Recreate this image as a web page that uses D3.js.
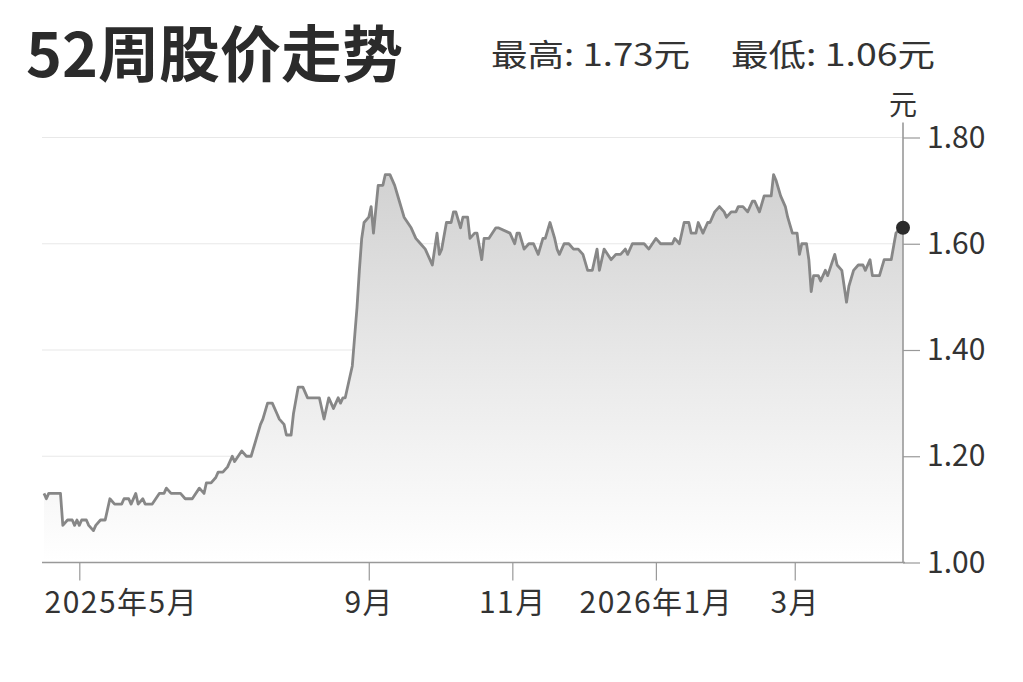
<!DOCTYPE html>
<html>
<head>
<meta charset="utf-8">
<script src="https://cdn.jsdelivr.net/npm/d3@7"></script>
<style>
body { margin: 0; background: #fff; }
svg { display: block; font-family: "Noto Sans CJK SC", "Noto Sans", sans-serif; }
</style>
</head>
<body>
<svg></svg>
<script>
let titleText = '52周股价走势'
let highText = '最高: 1.73元'
let lowText = '最低: 1.06元'
let unitText = '元'

// days counted from the first day of the 52-week window
let startDate = new Date(2025, 3, 16)
let dayOffsets = [
    0, 1, 2, 7, 8, 10, 12, 13, 14, 15, 16, 18, 19, 21, 22, 24, 26, 28, 30, 33,
    34, 36, 37, 39, 40, 42, 43, 46, 49, 51, 52, 54, 58, 60, 63, 66, 68, 69, 71, 73,
    74, 76, 78, 80, 81, 84, 86, 88, 90, 92, 93, 95, 97, 99, 100, 102, 103, 105, 106, 108,
    110, 112, 116, 117, 119, 121, 123, 125, 126, 127, 128, 130, 131, 133, 134, 135, 136, 138, 139, 140,
    142, 144, 145, 147, 149, 151, 153, 156, 158, 160, 162, 164, 165, 167, 168, 169, 171, 173, 174, 175,
    177, 178, 180, 181, 183, 184, 186, 187, 189, 192, 193, 198, 200, 201, 202, 204, 206, 208, 210, 212,
    213, 215, 217, 218, 219, 221, 223, 225, 227, 229, 231, 233, 235, 236, 238, 241, 243, 245, 247, 248,
    250, 255, 257, 260, 262, 267, 268, 270, 272, 274, 275, 277, 278, 280, 282, 283, 285, 287, 289, 290,
    292, 294, 295, 297, 299, 301, 302, 304, 306, 308, 309, 310, 311, 313, 315, 316, 318, 320, 321, 322,
    324, 325, 326, 327, 329, 330, 332, 333, 336, 337, 339, 341, 342, 344, 346, 348, 349, 351, 352, 355,
    357, 360, 362, 364, 365
]
let prices = [
    1.13, 1.12, 1.13, 1.13, 1.07, 1.08, 1.08, 1.07, 1.08, 1.07, 1.08, 1.08, 1.07, 1.06, 1.07, 1.08, 1.08, 1.12, 1.11, 1.11,
    1.12, 1.12, 1.11, 1.13, 1.11, 1.12, 1.11, 1.11, 1.13, 1.13, 1.14, 1.13, 1.13, 1.12, 1.12, 1.14, 1.13, 1.15, 1.15, 1.16,
    1.17, 1.17, 1.18, 1.20, 1.19, 1.21, 1.20, 1.20, 1.23, 1.26, 1.27, 1.30, 1.30, 1.28, 1.27, 1.26, 1.24, 1.24, 1.28, 1.33,
    1.33, 1.31, 1.31, 1.31, 1.27, 1.31, 1.29, 1.31, 1.30, 1.31, 1.31, 1.35, 1.37, 1.48, 1.55, 1.61, 1.64, 1.65, 1.67, 1.62,
    1.71, 1.71, 1.73, 1.73, 1.71, 1.68, 1.65, 1.63, 1.61, 1.60, 1.59, 1.57, 1.56, 1.62, 1.58, 1.59, 1.64, 1.64, 1.66, 1.66,
    1.63, 1.65, 1.65, 1.61, 1.62, 1.62, 1.57, 1.61, 1.61, 1.63, 1.63, 1.62, 1.60, 1.62, 1.62, 1.59, 1.60, 1.60, 1.58, 1.61,
    1.61, 1.64, 1.61, 1.59, 1.58, 1.60, 1.60, 1.59, 1.59, 1.58, 1.55, 1.55, 1.59, 1.55, 1.59, 1.57, 1.58, 1.58, 1.59, 1.58,
    1.60, 1.60, 1.59, 1.61, 1.60, 1.60, 1.61, 1.60, 1.64, 1.64, 1.62, 1.62, 1.64, 1.62, 1.64, 1.64, 1.66, 1.67, 1.66, 1.65,
    1.66, 1.66, 1.67, 1.67, 1.66, 1.68, 1.68, 1.66, 1.69, 1.69, 1.69, 1.73, 1.72, 1.69, 1.67, 1.65, 1.62, 1.62, 1.58, 1.60,
    1.60, 1.57, 1.51, 1.54, 1.54, 1.53, 1.55, 1.54, 1.58, 1.56, 1.55, 1.49, 1.52, 1.55, 1.56, 1.56, 1.55, 1.57, 1.54, 1.54,
    1.57, 1.57, 1.62, 1.63, 1.63
]

let tickDates = [new Date(2025, 4, 1), new Date(2025, 8, 1), new Date(2025, 10, 1), new Date(2026, 0, 1), new Date(2026, 2, 1)]
let yTicks = [1.0, 1.2, 1.4, 1.6, 1.8]

let width = 1023
let height = 682
let plotLeft = 44
let plotRight = 903
let plotTop = 137.5
let plotBottom = 562.5

let svg = d3.select('svg').attr('width', width).attr('height', height)

let points = dayOffsets.map((d, i) => ({ date: d3.timeDay.offset(startDate, d), price: prices[i] }))

let xScale = d3.scaleTime()
    .domain([startDate, d3.timeDay.offset(startDate, 365)])
    .range([plotLeft, plotRight])

let yScale = d3.scaleLinear()
    .domain([1.0, 1.8])
    .range([plotBottom, plotTop])

// gradient for the area
let grad = svg.append('defs').append('linearGradient')
    .attr('id', 'fade')
    .attr('gradientUnits', 'userSpaceOnUse')
    .attr('x1', 0).attr('x2', 0)
    .attr('y1', yScale(1.75)).attr('y2', yScale(1.0))
grad.append('stop').attr('offset', '0%').attr('stop-color', '#d0d0d0')
grad.append('stop').attr('offset', '55%').attr('stop-color', '#ebebeb')
grad.append('stop').attr('offset', '100%').attr('stop-color', '#ffffff')

// grid lines
svg.append('g')
    .selectAll('line')
    .data(yTicks.filter(t => t > 1.0))
    .enter()
    .append('line')
    .attr('x1', plotLeft - 2)
    .attr('x2', plotRight)
    .attr('y1', d => yScale(d))
    .attr('y2', d => yScale(d))
    .attr('stroke', '#e8e8e8')
    .attr('stroke-width', 1.2)

let area = d3.area()
    .x(d => xScale(d.date))
    .y0(yScale(1.0))
    .y1(d => yScale(d.price))

let line = d3.line()
    .x(d => xScale(d.date))
    .y(d => yScale(d.price))

svg.append('path')
    .datum(points)
    .attr('d', area)
    .attr('fill', 'url(#fade)')

svg.append('path')
    .datum(points)
    .attr('d', line)
    .attr('fill', 'none')
    .attr('stroke', '#878787')
    .attr('stroke-width', 2.8)
    .attr('stroke-linejoin', 'round')

// x axis
let monthFormat = d => (d.getMonth() === 0 || d.getTime() === tickDates[0].getTime())
    ? d.getFullYear() + '年' + (d.getMonth() + 1) + '月'
    : (d.getMonth() + 1) + '月'

let xAxis = d3.axisBottom(xScale)
    .tickValues(tickDates)
    .tickFormat(monthFormat)
    .tickSize(18)
    .tickPadding(11)

let xg = svg.append('g')
    .attr('transform', 'translate(0, ' + plotBottom + ')')
    .call(xAxis)
xg.select('.domain').remove()
xg.selectAll('.tick line').attr('stroke', '#999').attr('stroke-width', 1.2)
xg.selectAll('.tick text')
    .attr('fill', '#333')
    .attr('font-size', 30)
    .attr('letter-spacing', 1.5)
    .attr('font-family', '"Noto Sans CJK SC", sans-serif')
xg.select('.tick text')
    .attr('text-anchor', 'start')
    .attr('x', plotLeft - xScale(tickDates[0]))

svg.append('line')
    .attr('x1', plotLeft - 2)
    .attr('x2', plotRight + 2)
    .attr('y1', plotBottom)
    .attr('y2', plotBottom)
    .attr('stroke', '#999')
    .attr('stroke-width', 1.6)

// y axis on the right
let yAxis = d3.axisRight(yScale)
    .tickValues(yTicks)
    .tickFormat(d3.format('.2f'))
    .tickSize(17)
    .tickPadding(7)

let yg = svg.append('g')
    .attr('transform', 'translate(' + plotRight + ', 0)')
    .call(yAxis)
yg.select('.domain').remove()
yg.selectAll('.tick line').attr('stroke', '#999').attr('stroke-width', 1.2)
yg.selectAll('.tick text')
    .attr('fill', '#333')
    .attr('font-size', 30)
    .attr('font-family', '"Noto Sans CJK SC", sans-serif')

svg.append('line')
    .attr('x1', plotRight)
    .attr('x2', plotRight)
    .attr('y1', plotTop - 15)
    .attr('y2', plotBottom)
    .attr('stroke', '#999')
    .attr('stroke-width', 1.6)

// last price marker
let last = points[points.length - 1]
svg.append('circle')
    .attr('cx', xScale(last.date))
    .attr('cy', yScale(last.price))
    .attr('r', 7)
    .attr('fill', '#2b2b2b')

// texts
svg.append('text')
    .attr('x', 26)
    .attr('y', 77)
    .attr('font-size', 61)
    .attr('font-weight', 'bold')
    .attr('fill', '#2b2b2b')
    .text(titleText)

svg.append('text')
    .attr('x', 491)
    .attr('y', 66)
    .attr('font-size', 31)
    .attr('fill', '#333')
    .attr('textLength', 199)
    .attr('lengthAdjust', 'spacingAndGlyphs')
    .text(highText)

svg.append('text')
    .attr('x', 731)
    .attr('y', 66)
    .attr('font-size', 31)
    .attr('fill', '#333')
    .attr('textLength', 204)
    .attr('lengthAdjust', 'spacingAndGlyphs')
    .text(lowText)

svg.append('text')
    .attr('x', plotRight)
    .attr('y', 115)
    .attr('text-anchor', 'middle')
    .attr('font-size', 28)
    .attr('fill', '#333')
    .text(unitText)
</script>
</body>
</html>
